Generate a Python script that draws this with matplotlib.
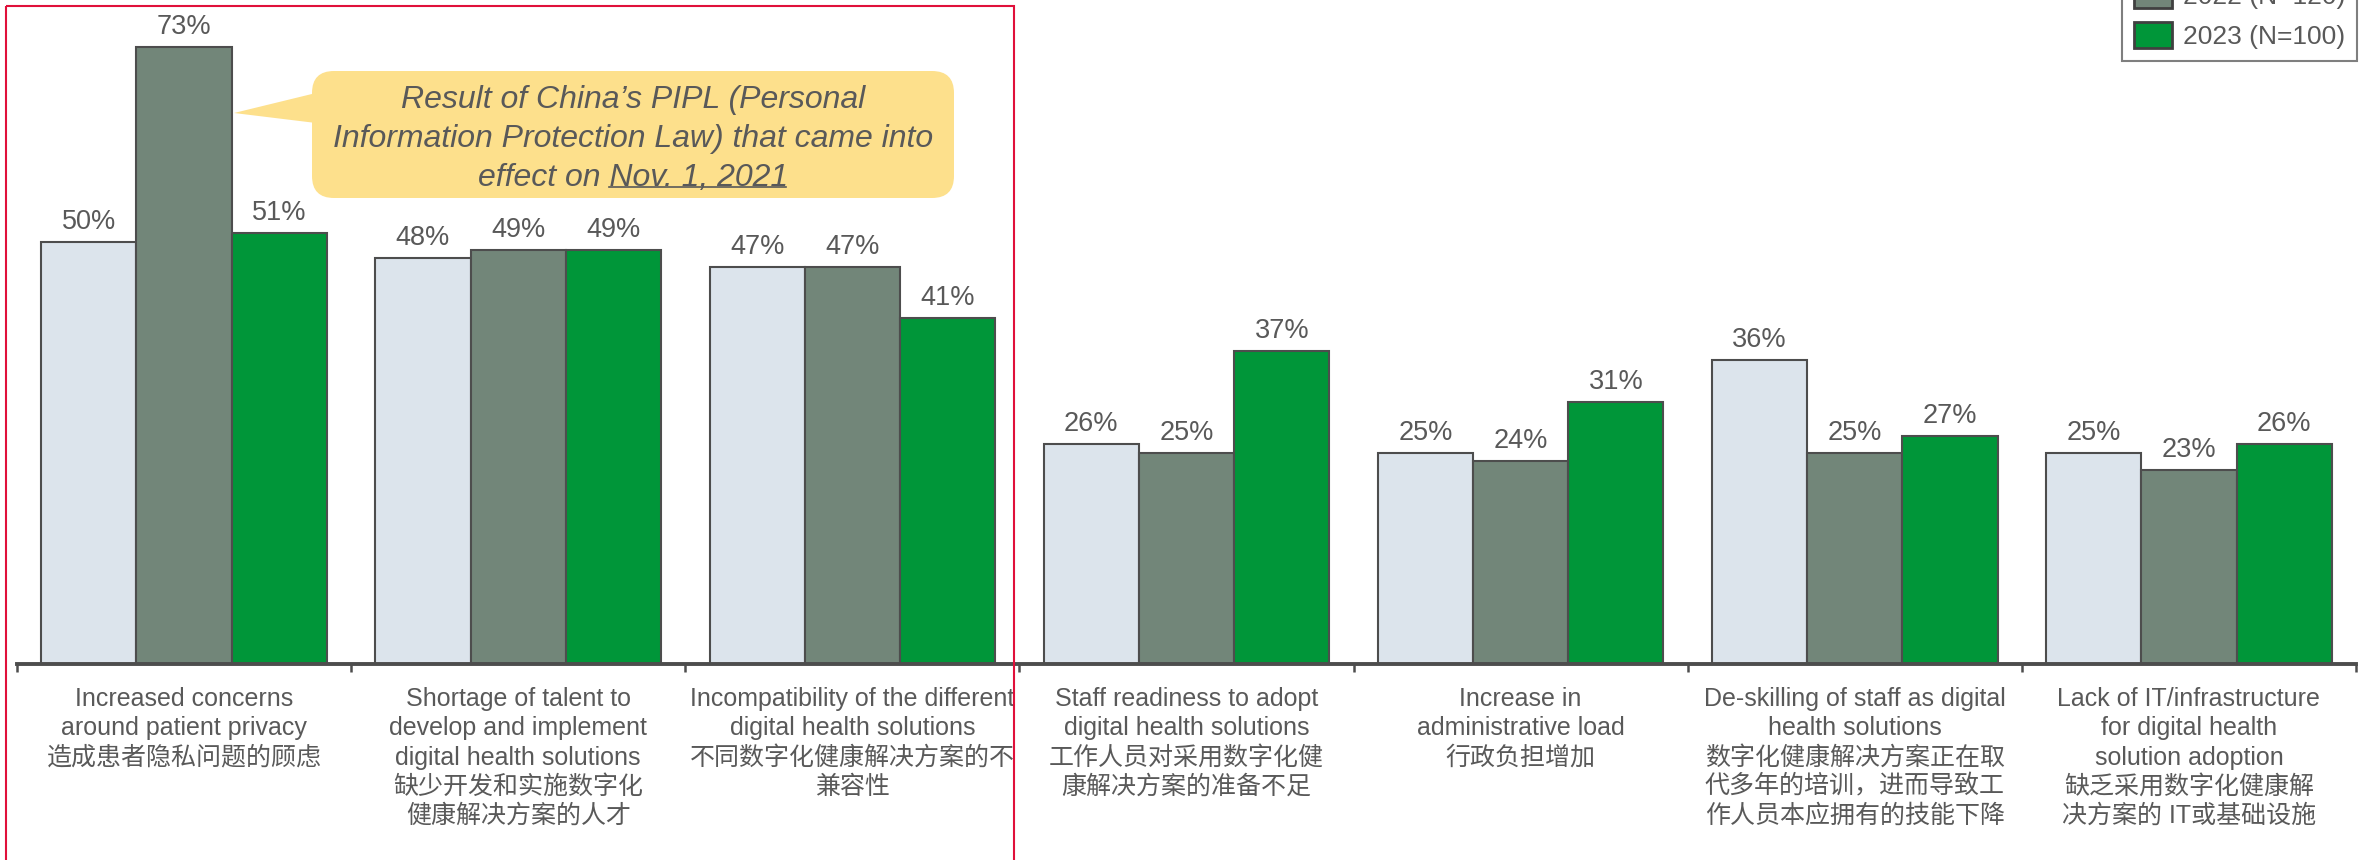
import matplotlib
matplotlib.use("Agg")
import matplotlib.pyplot as plt
import numpy as np
from matplotlib.patches import FancyBboxPatch, Polygon, Rectangle

plt.rcParams['font.family'] = ['Liberation Sans', 'Noto Sans CJK SC', 'DejaVu Sans']

categories = [
    "Increased concerns\naround patient privacy\n造成患者隐私问题的顾虑",
    "Shortage of talent to\ndevelop and implement\ndigital health solutions\n缺少开发和实施数字化\n健康解决方案的人才",
    "Incompatibility of the different\ndigital health solutions\n不同数字化健康解决方案的不\n兼容性",
    "Staff readiness to adopt\ndigital health solutions\n工作人员对采用数字化健\n康解决方案的准备不足",
    "Increase in\nadministrative load\n行政负担增加",
    "De-skilling of staff as digital\nhealth solutions\n数字化健康解决方案正在取\n代多年的培训，进而导致工\n作人员本应拥有的技能下降",
    "Lack of IT/infrastructure\nfor digital health\nsolution adoption\n缺乏采用数字化健康解\n决方案的 IT或基础设施",
]
series_names = ["2021 (N=100)", "2022 (N=120)", "2023 (N=100)"]
v2021 = [50, 48, 47, 26, 25, 36, 25]
v2022 = [73, 49, 47, 25, 24, 25, 23]
v2023 = [51, 49, 41, 37, 31, 27, 26]

colors = ["#DCE4EC", "#728679", "#009639"]
txt = "#595959"
edge = "#4D4D4D"

W, H = 2366, 860
fig = plt.figure(figsize=(W / 100, H / 100), dpi=100)
ax = fig.add_axes([17 / W, 1 - 664 / H, (2356 - 17) / W, 664 / H])

x = np.arange(len(categories))
bw = 0.285
handles = []
for k, vals in enumerate([v2021, v2022, v2023]):
    b = ax.bar(x + (k - 1) * bw, vals, bw, color=colors[k], edgecolor=edge,
               linewidth=1.5, label=series_names[k], zorder=2)
    handles.append(b)
    for xi, v in zip(x + (k - 1) * bw, vals):
        ax.annotate(f"{v}%", (xi, v), xytext=(0, 5), textcoords="offset points",
                    ha="center", va="bottom", fontsize=19.5, color=txt)

ax.set_xlim(-0.5, len(categories) - 0.5)
ax.set_ylim(0, 664 / 8.45)
for s in ["top", "left", "right"]:
    ax.spines[s].set_visible(False)
ax.spines["bottom"].set_linewidth(2.8)
ax.spines["bottom"].set_color(edge)
ax.set_yticks([])
ax.set_xticks(np.arange(-0.5, len(categories), 1.0))
ax.set_xticklabels([])
ax.tick_params(axis="x", direction="out", length=6, width=1.8, color=edge)

for i, c in enumerate(categories):
    ax.annotate(c, (i, 0), xytext=(0, -16.5), textcoords="offset points",
                ha="center", va="top", fontsize=18, color=txt, linespacing=1.28,
                annotation_clip=False)

# overlay in pixel coords for the callout and red frame
ov = fig.add_axes([0, 0, 1, 1], zorder=5)
ov.set_xlim(0, W)
ov.set_ylim(H, 0)
ov.axis("off")
ov.patch.set_alpha(0)

ov.add_patch(Rectangle((6, 6), 1008, 900, fill=False, edgecolor="#E0103A", linewidth=1.5))

yel = "#FDE08C"
ov.add_patch(FancyBboxPatch((312, 71), 642, 127, boxstyle="round,pad=0,rounding_size=22",
                            facecolor=yel, edgecolor="none"))
ov.add_patch(Polygon([(234, 113), (316, 93), (316, 123)], closed=True, facecolor=yel, edgecolor="none"))

cfont = dict(fontsize=23, style="italic", color=txt, ha="center", va="center")
ov.text(633, 100, "Result of China\u2019s PIPL (Personal", **cfont)
ov.text(633, 139, "Information Protection Law) that came into", **cfont)
t3 = ov.text(633, 178, "effect on Nov. 1, 2021", **cfont)

fig.canvas.draw()
r = fig.canvas.get_renderer()
bb = t3.get_window_extent(r)
tmp = ov.text(0, 0, "Nov. 1, 2021", fontsize=23, style="italic")
w = tmp.get_window_extent(r).width
tmp.remove()
inv = ov.transData.inverted()
(x0, y0) = inv.transform((bb.x1 - w, bb.y0 + 6))
(x1, _) = inv.transform((bb.x1 - 2, bb.y0 + 6))
ov.plot([x0, x1], [y0, y0], color=txt, linewidth=1.2)

leg = fig.legend(handles=handles, labels=series_names, loc="lower right",
                 bbox_to_anchor=(2357 / W, 1 - 61 / H), bbox_transform=fig.transFigure,
                 fontsize=19, frameon=True, fancybox=False, edgecolor="#7F7F7F",
                 framealpha=1, borderpad=0.45, handlelength=1.45, handleheight=1.1,
                 handletextpad=0.4, labelspacing=0.5, borderaxespad=0)
leg.get_frame().set_linewidth(1.5)
for t in leg.get_texts():
    t.set_color(txt)
for p in leg.get_patches():
    p.set_edgecolor("#404040")
    p.set_linewidth(2)

fig.savefig("out.png", dpi=100)
